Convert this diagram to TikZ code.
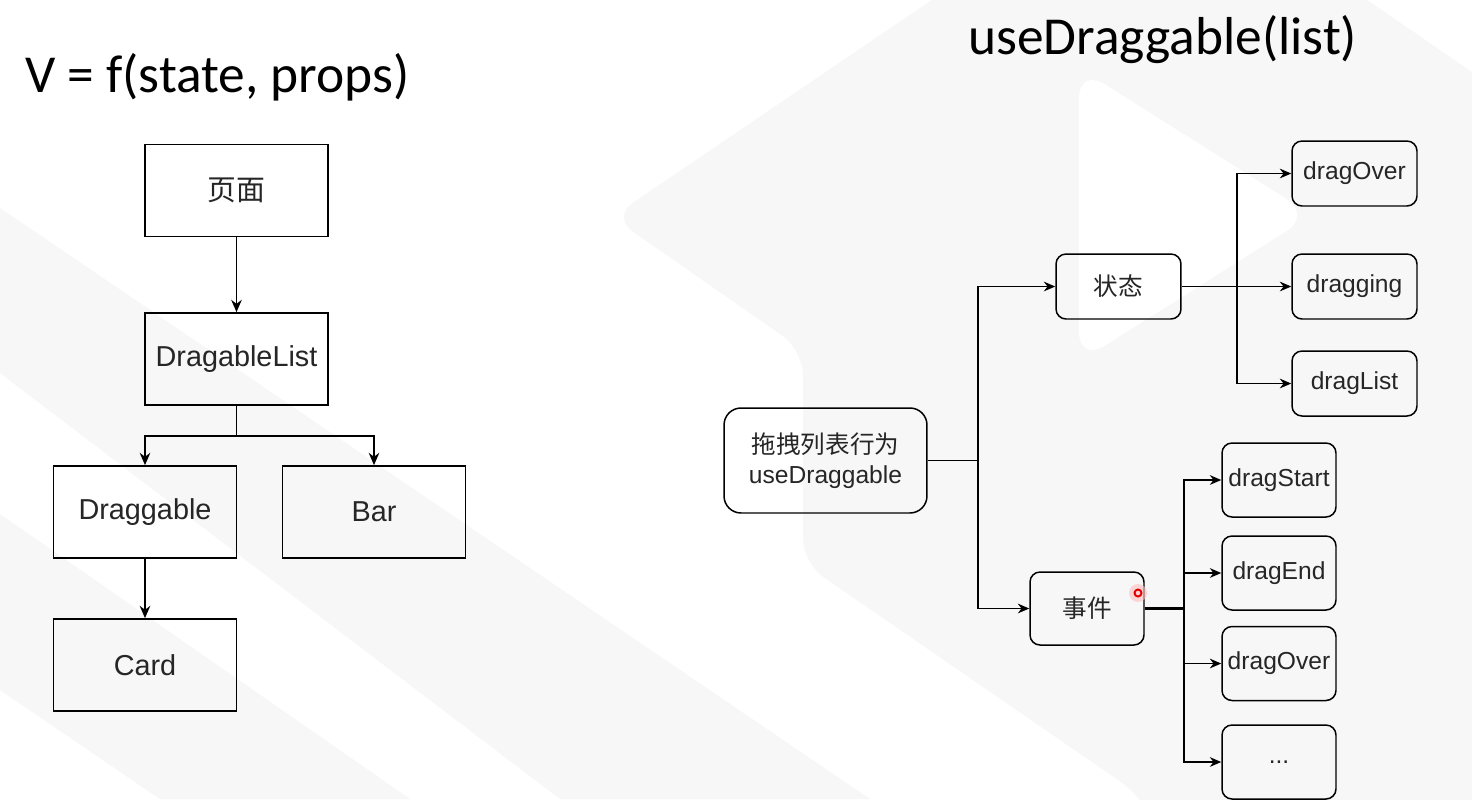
\documentclass[tikz,border=0pt]{standalone}
\usepackage{fontspec}
\setmainfont{Liberation Sans}
\newfontfamily\cjk{Noto Sans CJK SC}
\newfontfamily\slidefont{Carlito}
\usetikzlibrary{arrows.meta}

\begin{document}
\begin{tikzpicture}[x=0.02cm,y=-0.02cm,
    sq_node/.style={draw,line width=1pt,text=black!85,minimum width=3.66cm,minimum height=1.84cm,inner sep=0pt,font=\fontsize{16.4}{19}\selectfont},
    rd_node/.style={draw,line width=0.85pt,text=black!85,rounded corners=0.2cm,minimum width=2.5cm,minimum height=1.3cm,inner sep=0pt,font=\fontsize{14}{16.8}\selectfont},
    ev_node/.style={rd_node,minimum width=2.28cm,minimum height=1.48cm},
    title_node/.style={anchor=base west,inner sep=0pt,font=\slidefont\fontsize{30.4}{36}\selectfont}]

    % faint watermark behind the slide
    \fill[white] (0,0) rectangle (1472,799);
    \useasboundingbox (0,0) rectangle (1472,799);
    \begin{scope}
    \clip (0,0) rectangle (1472,799);
    \fill[black!3] (0,208) -- (870,799) -- (560,799) -- (0,373) -- cycle;
    \fill[black!3] (0,514) -- (410,799) -- (160,799) -- (0,690) -- cycle;
    \fill[black!3,rounded corners=0.5cm] (612,217) -- (1010,-53) -- (1290,-53) -- (1600,160)
        -- (1600,900) -- (1200,900) -- (1140,795) -- (803,563) -- (803,350) -- cycle;
    \fill[white,rounded corners=0.6cm] (1079,68) -- (1312,215) -- (1079,362) -- cycle;
    \end{scope}

    \node[title_node] (t1) at (25,92) {V = f(state, props)};
    \node[title_node] (t2) at (968,54) {useDraggable(list)};

    % component tree
    \node[sq_node] (1) at (236.5,190.5) {\cjk 页面};
    \node[sq_node] (2) at (236.5,359) {DragableList};
    \node[sq_node] (3) at (145,512) {Draggable};
    \node[sq_node] (4) at (374,512) {Bar};
    \node[sq_node] (5) at (145,665) {Card};
    \coordinate (j1) at (236.5,436);

    \draw[line width=1pt] (2) -- (j1);
    \begin{scope}[every path/.style={->,line width=1pt},>={Stealth[length=7pt,width=6pt]}]
    \draw (1) -- (2);
    \draw (j1) -| (3);
    \draw (j1) -| (4);
    \draw (3) -- (5);
    \end{scope}

    % hook
    \node[rd_node,minimum width=4.06cm,minimum height=2.1cm,rounded corners=0.34cm,align=center] (6) at (825.5,460.5) {{\cjk 拖拽列表行为}\\useDraggable};
    \node[rd_node] (7) at (1118.5,286.5) {\cjk 状态};
    \node[ev_node,minimum height=1.46cm] (8) at (1087,608.5) {\cjk 事件};
    \node[rd_node] (9) at (1354.5,173.5) {dragOver};
    \node[rd_node] (10) at (1354.5,286.5) {dragging};
    \node[rd_node] (11) at (1354.5,383.5) {dragList};
    \node[ev_node] (12) at (1279,480) {dragStart};
    \node[ev_node] (13) at (1279,573) {dragEnd};
    \node[ev_node] (14) at (1279,663.5) {dragOver};
    \node[ev_node] (15) at (1279,762) {...};
    \coordinate (j2) at (978,460.5);
    \coordinate (j3) at (1237,286.5);
    \coordinate (j4) at (1184,608.5);

    \draw[line width=0.9pt] (6) -- (j2);
    \draw[line width=1.3pt] (8) -- (j4);
    \begin{scope}[every path/.style={->,line width=0.85pt},>={Stealth[length=6.5pt,width=5.5pt]}]
    \draw (j2) |- (7);
    \draw (j2) |- (8);
    \draw (7) -- (10);
    \draw (j3) |- (9);
    \draw (j3) |- (11);
    \draw (j4) |- (12);
    \draw (j4) |- (13);
    \draw (j4) |- (14);
    \draw (j4) |- (15);
    \end{scope}

    % cursor mark
    \fill[red!25,opacity=0.6] (1138,593) circle (9);
    \draw[red!90!black,line width=1.1pt] (1138,593) circle (3.5);
\end{tikzpicture}
\end{document}
